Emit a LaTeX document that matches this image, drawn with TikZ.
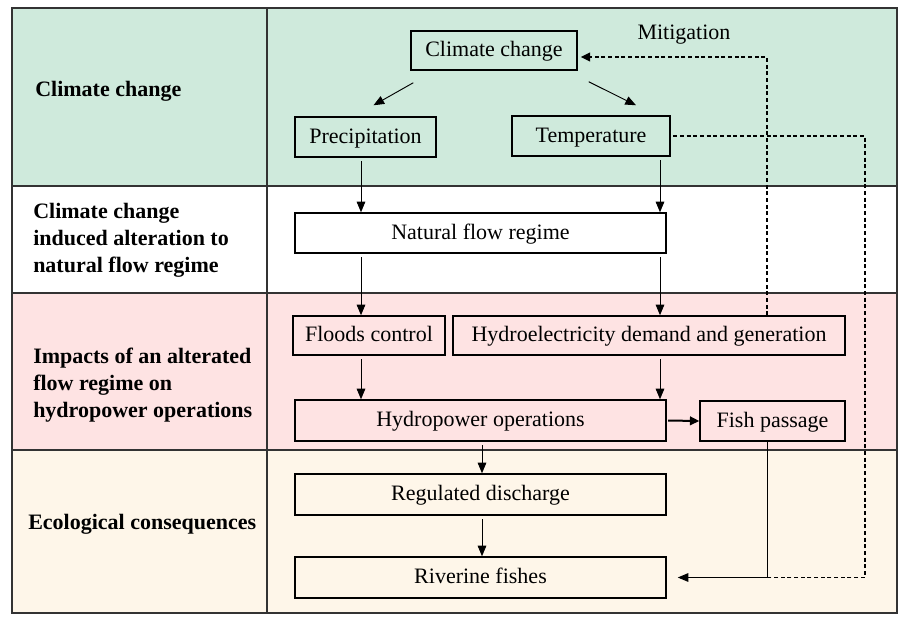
\documentclass[tikz,border=0pt]{standalone}
\usepackage{fontspec}
\setmainfont{Liberation Serif}
\usetikzlibrary{arrows.meta,calc}
\definecolor{rowgreen}{HTML}{CFEADC}
\definecolor{rowpink}{HTML}{FEE3E3}
\definecolor{rowcream}{HTML}{FEF6E9}
\definecolor{rulegray}{HTML}{333333}
\tikzset{
box/.style={draw, line width=1.1pt, inner sep=0pt, minimum height=30pt,
  text height=12pt, text depth=3pt, font=\fontsize{16.5}{19}\selectfont},
band/.style={anchor=west, align=left, inner sep=0pt,
  font=\fontsize{16.5}{20.25}\selectfont\bfseries},
link/.style={line width=0.7pt, shorten <=2.5pt, -{Triangle[length=8pt,width=6.5pt]}},
mitig/.style={line width=1.1pt, dash pattern=on 3pt off 2pt}
}

\begin{document}
\begin{tikzpicture}[x=0.75pt,y=-0.75pt]
\useasboundingbox (0,0) rectangle (899,617);
\fill[rowgreen] (12,8) rectangle (897,186);
\fill[white] (12,186) rectangle (897,293);
\fill[rowpink] (12,293) rectangle (897,450);
\fill[rowcream] (12,450) rectangle (897,613);
\draw[rulegray, line width=1.1pt] (12,8) rectangle (897,613);
\draw[rulegray, line width=1.1pt] (12,186) -- (897,186);
\draw[rulegray, line width=1.1pt] (12,293) -- (897,293);
\draw[rulegray, line width=1.1pt] (12,450) -- (897,450);
\draw[rulegray, line width=1.1pt] (267,8) -- (267,613);

\node[band] (lcc) at (35,91) {Climate change};
\node[band] (lnf) at (33,240) {Climate change\\induced alteration to\\natural flow regime};
\node[band] (lho) at (33,385) {Impacts of an alterated\\flow regime on\\hydropower operations};
\node[band] (lec) at (28,524) {Ecological consequences};

\node[box, minimum width=124.5pt, minimum height=29.3pt] (cc) at (494,50.5) {Climate change};
\node[box, minimum width=105.75pt] (pr) at (365.5,137) {Precipitation};
\node[box, minimum width=118.5pt] (te) at (591,136) {Temperature};
\node[box, minimum width=278.25pt] (nf) at (480.5,233) {Natural flow regime};
\node[box, minimum width=114pt, minimum height=29.3pt] (fc) at (369,335.5) {Floods control};
\node[box, minimum width=294pt, minimum height=29.3pt] (hd) at (649,335.5) {Hydroelectricity demand and generation};
\node[box, minimum width=278.25pt, minimum height=30.75pt] (ho) at (480.5,420.5) {Hydropower operations};
\node[box, minimum width=108.75pt] (fp) at (772.5,421) {Fish passage};
\node[box, minimum width=278.25pt, minimum height=30.75pt] (rd) at (480.5,494.5) {Regulated discharge};
\node[box, minimum width=278.25pt, minimum height=30.75pt] (rf) at (480.5,577.5) {Riverine fishes};
\node[font=\fontsize{16.5}{19}\selectfont] (mt) at (684,35) {Mitigation};

\coordinate (c1) at (361,0);
\coordinate (c2) at (660,0);
\coordinate (c3) at (482,0);
\coordinate (c4) at (767,0);
\coordinate (c5) at (865,0);
\coordinate (m1) at (767,57);

\draw[link, shorten <=0pt] ($(cc.south west)+(3,12)$) -- ($(pr.north)+(8,-11)$);
\draw[link, shorten <=0pt] ($(cc.south east)+(11,11)$) -- ($(te.north)+(45,-10)$);
\draw[link] (c1 |- pr.south) -- (c1 |- nf.north);
\draw[link] (c2 |- te.south) -- (c2 |- nf.north);
\draw[link] (c1 |- nf.south) -- (c1 |- fc.north);
\draw[link] (c2 |- nf.south) -- (c2 |- hd.north);
\draw[link] (c1 |- fc.south) -- (c1 |- ho.north);
\draw[link] (c2 |- hd.south) -- (c2 |- ho.north);
\draw[link] (c3 |- ho.south) -- (c3 |- rd.north);
\draw[link] (c3 |- rd.south) -- (c3 |- rf.north);
\draw[line width=1.5pt, shorten <=1pt, -{Triangle[length=7pt,width=6.5pt]}] (ho.east) -- (fp.west);

\draw[line width=0.6pt] (c4 |- fp.south) -- (c4 |- rf.east);
\draw[link, shorten <=0pt] (c4 |- rf.east) -- ($(rf.east)+(11,0)$);
\draw[mitig, -{Triangle[length=7pt,width=6.5pt]}] (c4 |- hd.north) -- (m1) -- ($(m1 -| cc.east)+(3,0)$);
\draw[mitig, shorten <=2pt] (te.east) -- (te.east -| c5) -- (c5 |- rf.east) -- (c4 |- rf.east);
\end{tikzpicture}
\end{document}
